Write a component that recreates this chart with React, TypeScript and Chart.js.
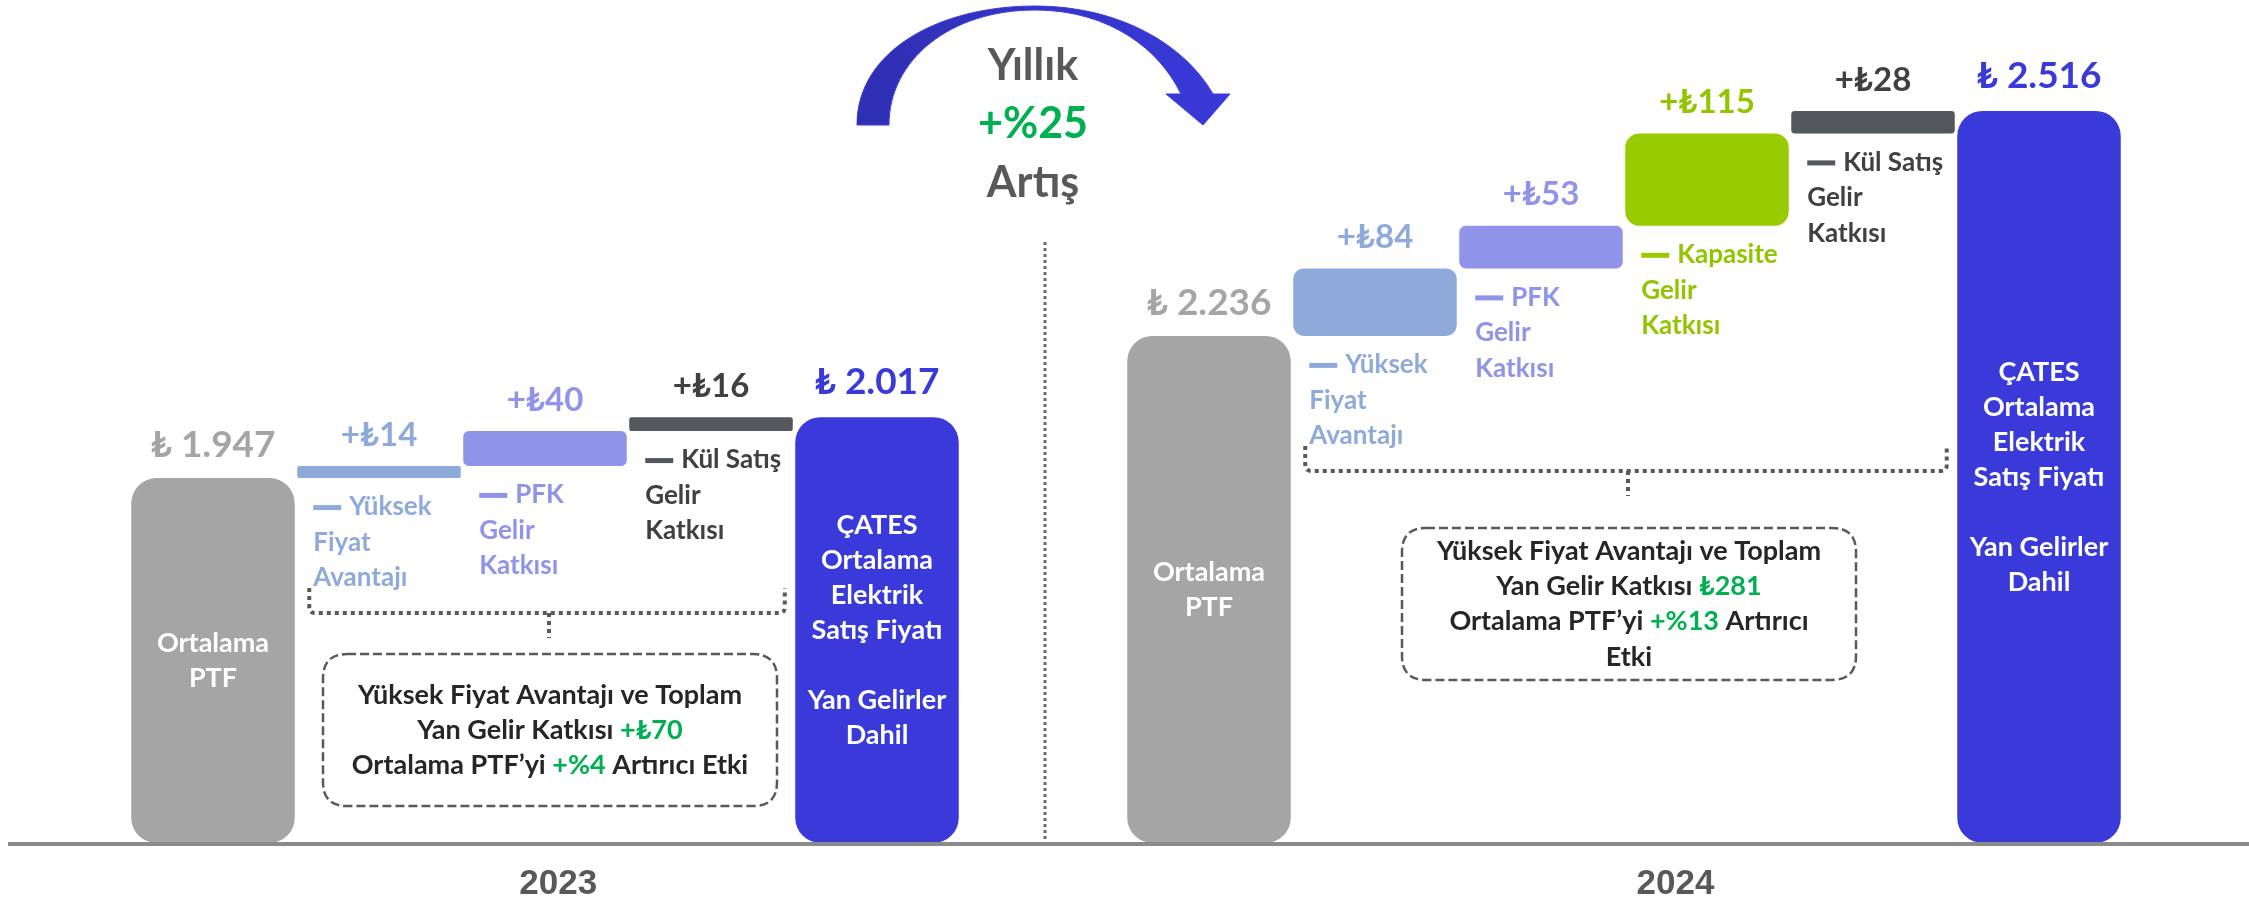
import React, { useEffect, useRef } from "react";
import { Chart, registerables } from "chart.js";

Chart.register(...registerables);

// ---------- data ----------
const categories = [
  "Ortalama PTF",
  "Yüksek Fiyat Avantajı",
  "PFK Gelir Katkısı",
  "Kül Satış Gelir Katkısı",
  "ÇATES Ortalama Elektrik Satış Fiyatı",
  "",
  "Ortalama PTF",
  "Yüksek Fiyat Avantajı",
  "PFK Gelir Katkısı",
  "Kapasite Gelir Katkısı",
  "Kül Satış Gelir Katkısı",
  "ÇATES Ortalama Elektrik Satış Fiyatı",
];
const years = ["2023", "2024"];
const base2023 = 1947;
const deltas2023 = [14, 40, 16];
const total2023 = 2017;
const base2024 = 2236;
const deltas2024 = [84, 53, 115, 28];
const total2024 = 2516;
const notes2023 = [
  ["Yüksek", "Fiyat", "Avantajı"],
  ["PFK", "Gelir", "Katkısı"],
  ["Kül Satış", "Gelir", "Katkısı"],
];
const notes2024 = [
  ["Yüksek", "Fiyat", "Avantajı"],
  ["PFK", "Gelir", "Katkısı"],
  ["Kapasite", "Gelir", "Katkısı"],
  ["Kül Satış", "Gelir", "Katkısı"],
];
const baseBarText = ["Ortalama", "PTF"];
const totalBarText = ["ÇATES", "Ortalama", "Elektrik", "Satış Fiyatı", "", "Yan Gelirler", "Dahil"];
const sideIncome = ["+₺70", "₺281"];
const ptfEffect = ["+%4", "+%13"];
const annualGrowth = "+%25";
const yRange2023 = [1528, 2496];
const yRange2024 = [1605, 2654];

// ---------- styles ----------
const GRAY = "#A5A5A5";
const BLUE = "#3A3ADB";
const C_YUKSEK = "#8EAADB";
const C_PFK = "#8F94E8";
const C_KAP = "#99CC00";
const C_KUL = "#54575C";
const C_KUL_TXT = "#404040";
const GREEN = "#00B050";
const DARK = "#262626";
const FONT = "Lato, 'Noto Sans', 'DejaVu Sans', sans-serif";
const deltaColors2023 = [C_YUKSEK, C_PFK, C_KUL];
const deltaColors2024 = [C_YUKSEK, C_PFK, C_KAP, C_KUL];
const deltaText2023 = [C_YUKSEK, C_PFK, C_KUL_TXT];
const deltaText2024 = [C_YUKSEK, C_PFK, "#92C400", C_KUL_TXT];
const boxGap = [41, 57];
const yearPos = [2.08, 8.81];

const fmt = (v: number) => v.toString().replace(/\B(?=(\d{3})+(?!\d))/g, ".");

function buildWaterfall(base: number, deltas: number[], total: number, floor: number, offset: number) {
  const data: any[] = new Array(categories.length).fill(null);
  data[offset] = [floor, base];
  let run = base;
  deltas.forEach((d, i) => {
    data[offset + 1 + i] = [run, run + d];
    run += d;
  });
  data[offset + 1 + deltas.length] = [floor, total];
  return data;
}

function buildColors(deltaCols: string[], offset: number) {
  const c: string[] = new Array(categories.length).fill("rgba(0,0,0,0)");
  c[offset] = GRAY;
  deltaCols.forEach((col, i) => (c[offset + 1 + i] = col));
  c[offset + 1 + deltaCols.length] = BLUE;
  return c;
}

function txt(ctx: CanvasRenderingContext2D, s: string, x: number, y: number, size: number, color: string, align: CanvasTextAlign = "center", family = FONT) {
  ctx.font = `bold ${size}px ${family}`;
  ctx.fillStyle = color;
  ctx.textAlign = align;
  ctx.textBaseline = "middle";
  ctx.fillText(s, x, y);
}

function rich(ctx: CanvasRenderingContext2D, segs: [string, string][], cx: number, y: number, size: number) {
  ctx.font = `bold ${size}px ${FONT}`;
  const widths = segs.map((s) => ctx.measureText(s[0]).width);
  const total = widths.reduce((a, b) => a + b, 0);
  let x = cx - total / 2;
  ctx.textAlign = "left";
  ctx.textBaseline = "middle";
  segs.forEach((s, i) => {
    ctx.fillStyle = s[1];
    ctx.fillText(s[0], x, y);
    x += widths[i];
  });
}

function roundRectPath(ctx: CanvasRenderingContext2D, x: number, y: number, w: number, h: number, r: number) {
  ctx.beginPath();
  ctx.moveTo(x + r, y);
  ctx.lineTo(x + w - r, y);
  ctx.quadraticCurveTo(x + w, y, x + w, y + r);
  ctx.lineTo(x + w, y + h - r);
  ctx.quadraticCurveTo(x + w, y + h, x + w - r, y + h);
  ctx.lineTo(x + r, y + h);
  ctx.quadraticCurveTo(x, y + h, x, y + h - r);
  ctx.lineTo(x, y + r);
  ctx.quadraticCurveTo(x, y, x + r, y);
  ctx.closePath();
}

const groups = [
  { ds: 0, offset: 0, base: base2023, deltas: deltas2023, total: total2023, notes: notes2023, dCols: deltaColors2023, tCols: deltaText2023 },
  { ds: 1, offset: 6, base: base2024, deltas: deltas2024, total: total2024, notes: notes2024, dCols: deltaColors2024, tCols: deltaText2024 },
];

const boxLines = [
  [
    [["Yüksek Fiyat Avantajı ve Toplam", DARK]],
    [["Yan Gelir Katkısı ", DARK], [sideIncome[0], GREEN]],
    [["Ortalama PTF’yi ", DARK], [ptfEffect[0], GREEN], [" Artırıcı Etki", DARK]],
  ],
  [
    [["Yüksek Fiyat Avantajı ve Toplam", DARK]],
    [["Yan Gelir Katkısı ", DARK], [sideIncome[1], GREEN]],
    [["Ortalama PTF’yi ", DARK], [ptfEffect[1], GREEN], [" Artırıcı", DARK]],
    [["Etki", DARK]],
  ],
] as [string, string][][][];

const overlay = {
  id: "overlay",
  afterDatasetsDraw(chart: any) {
    const ctx: CanvasRenderingContext2D = chart.ctx;
    const xs = chart.scales.x;
    const area = chart.chartArea;
    ctx.save();

    // divider
    const dx = xs.getPixelForValue(5) + 2;
    ctx.strokeStyle = "#6B6B6B";
    ctx.lineWidth = 3;
    ctx.setLineDash([3, 3]);
    ctx.beginPath();
    ctx.moveTo(dx, 242);
    ctx.lineTo(dx, area.bottom);
    ctx.stroke();
    ctx.setLineDash([]);

    // curved arrow
    const grad = ctx.createLinearGradient(dx - 190, 0, dx + 190, 0);
    grad.addColorStop(0, "#2F2FB2");
    grad.addColorStop(0.5, "#3434C6");
    grad.addColorStop(1, "#3A3ADB");
    ctx.fillStyle = grad;
    ctx.beginPath();
    ctx.moveTo(dx - 188, 125);
    ctx.bezierCurveTo(dx - 188, 50, dx - 105, 6, dx - 10, 6);
    ctx.bezierCurveTo(dx + 75, 6, dx + 140, 45, dx + 168, 94);
    ctx.lineTo(dx + 185, 94);
    ctx.lineTo(dx + 158, 125);
    ctx.lineTo(dx + 121, 94);
    ctx.lineTo(dx + 136, 94);
    ctx.bezierCurveTo(dx + 115, 50, dx + 65, 10, dx - 10, 10);
    ctx.bezierCurveTo(dx - 95, 10, dx - 156, 60, dx - 156, 125);
    ctx.closePath();
    ctx.fill();
    ctx.strokeStyle = "#3B3BE0";
    ctx.lineWidth = 1;
    ctx.stroke();

    txt(ctx, "Yıllık", dx - 12, 66, 43, "#595959");
    txt(ctx, annualGrowth, dx - 12, 124, 43, GREEN);
    txt(ctx, "Artış", dx - 12, 183, 43, "#595959");

    groups.forEach((g, gi) => {
      const els = chart.getDatasetMeta(g.ds).data;
      const last = g.offset + 1 + g.deltas.length;
      const first = els[g.offset];
      const fin = els[last];

      // totals labels
      txt(ctx, "₺ " + fmt(g.base), first.x, first.y - 33, 37, GRAY);
      txt(ctx, "₺ " + fmt(g.total), fin.x, fin.y - 35, 37, BLUE);

      // inner bar text
      const drawInner = (el: any, lines: string[]) => {
        const mid = (el.y + el.base) / 2;
        const lh = 35;
        const start = mid - ((lines.length - 1) * lh) / 2;
        lines.forEach((l, k) => {
          if (l) txt(ctx, l, el.x, start + k * lh, 27, "#FFFFFF");
        });
      };
      drawInner(first, baseBarText);
      drawInner(fin, totalBarText);

      // deltas
      g.deltas.forEach((d, i) => {
        const el = els[g.offset + 1 + i];
        txt(ctx, "+₺" + d, el.x, el.y - 31, 33, g.tCols[i]);
        const left = el.x - el.width / 2;
        const lines = g.notes[i];
        lines.forEach((l, k) => {
          const y = el.base + 29 + k * 35.5;
          if (k === 0) {
            ctx.fillStyle = g.dCols[i];
            ctx.fillRect(left + 16, y - 2, 28, 5);
            txt(ctx, l, left + 52, y, 26, g.tCols[i], "left");
          } else {
            txt(ctx, l, left + 16, y, 26, g.tCols[i], "left");
          }
        });
      });

      // bracket
      const e1 = els[g.offset + 1];
      const eN = els[last - 1];
      const L = e1.x - e1.width / 2 + 12;
      const R = eN.x + eN.width / 2 - 8;
      const h = e1.base + 135;
      const C = (L + R) / 2;
      ctx.strokeStyle = "#595959";
      ctx.lineWidth = 4;
      ctx.setLineDash([4, 4]);
      ctx.beginPath();
      ctx.moveTo(L, h - 25);
      ctx.lineTo(L, h - 6);
      ctx.quadraticCurveTo(L, h, L + 6, h);
      ctx.lineTo(R - 6, h);
      ctx.quadraticCurveTo(R, h, R, h - 6);
      ctx.lineTo(R, h - 25);
      ctx.stroke();
      ctx.beginPath();
      ctx.moveTo(C + 2, h);
      ctx.lineTo(C + 2, h + 25);
      ctx.stroke();

      // dashed box
      const bw = 454;
      const bh = 152;
      const bt = h + boxGap[gi];
      const bl = C + 3 - bw / 2;
      ctx.lineWidth = 2.5;
      ctx.setLineDash([9, 4]);
      roundRectPath(ctx, bl, bt, bw, bh, 24);
      ctx.stroke();
      ctx.setLineDash([]);
      const bl2 = boxLines[gi];
      const startY = bt + bh / 2 - ((bl2.length - 1) * 35.3) / 2;
      bl2.forEach((segs, k) => rich(ctx, segs, C + 3, startY + k * 35.3, 27));

      // year label
      txt(ctx, years[gi], xs.getPixelForValue(yearPos[gi]), area.bottom + 41, 35, "#595959", "center", "'Liberation Sans', Arial, sans-serif");
    });

    // baseline
    ctx.fillStyle = "#8A8A8A";
    ctx.fillRect(8, area.bottom - 1, chart.width - 8, 4);
    ctx.restore();
  },
};

export default function App() {
  const ref = useRef<HTMLCanvasElement>(null);
  useEffect(() => {
    const canvas = ref.current!;
    const radius = (axis: string) => (c: any) => {
      const r = c.raw;
      if (!r) return 0;
      const s = c.chart.scales[axis];
      const h = Math.abs(s.getPixelForValue(r[0]) - s.getPixelForValue(r[1]));
      return Math.min(h, 164) / 6.5;
    };
    const chart = new Chart(canvas, {
      type: "bar",
      data: {
        labels: categories,
        datasets: [
          {
            label: years[0],
            data: buildWaterfall(base2023, deltas2023, total2023, yRange2023[0], 0),
            yAxisID: "y23",
            backgroundColor: buildColors(deltaColors2023, 0),
            borderRadius: radius("y23"),
            borderSkipped: false,
            grouped: false,
            barPercentage: 0.985,
            categoryPercentage: 1,
          } as any,
          {
            label: years[1],
            data: buildWaterfall(base2024, deltas2024, total2024, yRange2024[0], 6),
            yAxisID: "y24",
            backgroundColor: buildColors(deltaColors2024, 6),
            borderRadius: radius("y24"),
            borderSkipped: false,
            grouped: false,
            barPercentage: 0.985,
            categoryPercentage: 1,
          } as any,
        ],
      },
      options: {
        responsive: false,
        animation: false,
        devicePixelRatio: 1,
        layout: { padding: { left: 130, right: 127, top: 0, bottom: 63 } },
        plugins: { legend: { display: false }, tooltip: { enabled: false } },
        scales: {
          x: { display: false },
          y23: { type: "linear", display: false, min: yRange2023[0], max: yRange2023[1] },
          y24: { type: "linear", display: false, min: yRange2024[0], max: yRange2024[1] },
        },
      } as any,
      plugins: [overlay],
    });
    return () => chart.destroy();
  }, []);
  return (
    <div style={{ position: "absolute", left: 0, top: 0, width: 2249, height: 906, background: "#fff" }}>
      <canvas ref={ref} width={2249} height={906} style={{ display: "block" }} />
    </div>
  );
}
